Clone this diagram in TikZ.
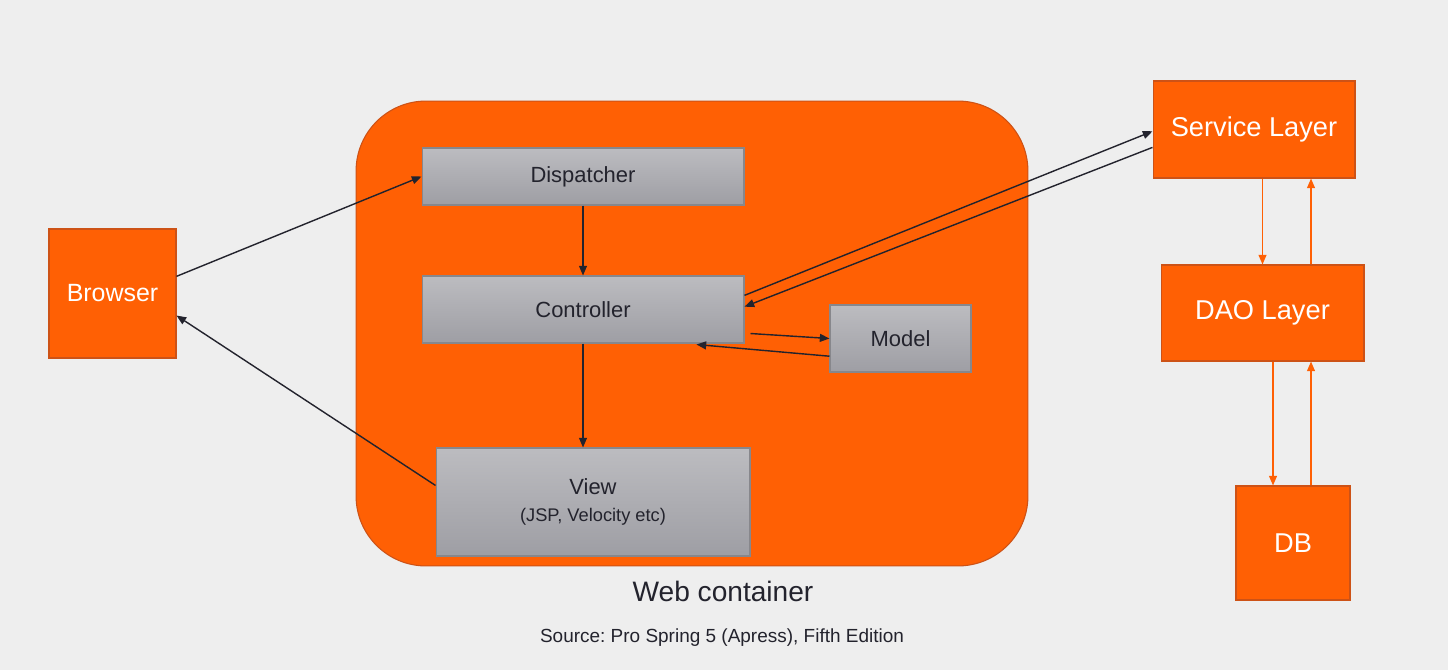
\documentclass[tikz,border=0pt]{standalone}
\usepackage{fontspec}
\setmainfont{Liberation Sans}
\usepackage{xcolor}
\usepackage{tikz}
\usetikzlibrary{positioning,calc,arrows.meta}
\frenchspacing

\definecolor{paper}{RGB}{238,238,238}
\definecolor{springorange}{RGB}{255,96,4}
\definecolor{orangeedge}{RGB}{205,82,22}
\definecolor{greytop}{RGB}{188,188,192}
\definecolor{greybottom}{RGB}{158,158,164}
\definecolor{greyedge}{RGB}{135,135,140}
\definecolor{inktext}{RGB}{35,35,45}

\tikzset{
    layer/.style={draw=orangeedge, fill=springorange, text=white, line width=0.6pt,
        font=\fontsize{15.5}{18}\selectfont},
    part/.style={draw=greyedge, top color=greytop, bottom color=greybottom, line width=0.6pt,
        text=inktext, font=\fontsize{12.5}{15}\selectfont},
    flow/.style={draw=inktext, line width=0.8pt, -{Triangle[length=5.5pt,width=4.5pt]}},
    dataflow/.style={draw=springorange, line width=0.8pt, -{Triangle[length=5.5pt,width=4.5pt]}}
}

\begin{document}
\begin{tikzpicture}[x=0.02cm, y=-0.02cm]
    \fill[paper] (0,0) rectangle (1448,670);
    \useasboundingbox (0,0) rectangle (1448,670);

    % web container
    \node[draw=orangeedge, fill=springorange, line width=0.6pt, rounded corners=1.4cm,
        minimum width=13.44cm, minimum height=9.3cm] (container) at (692,333.5) {};
    \node[text=inktext, font=\fontsize{16}{19}\selectfont] (containerlabel) at (723,591) {Web container};

    \node[part, minimum width=6.44cm, minimum height=1.14cm] (dispatcher) at (583,176.5) {Dispatcher};
    \node[part, minimum width=6.44cm, minimum height=1.34cm] (controller) at (583,309.5) {Controller};
    \node[part, minimum width=2.82cm, minimum height=1.34cm] (model) at (900.5,338.5) {Model};
    \node[part, minimum width=6.28cm, minimum height=2.16cm, align=center] (view) at (593,502)
        {View\\[0pt]{\fontsize{10.4}{12}\selectfont (JSP, Velocity etc)}};

    % outside the container
    \node[layer, minimum width=2.54cm, minimum height=2.58cm, font=\fontsize{14.2}{17}\selectfont]
        (browser) at (112.5,293.5) {Browser};
    \node[layer, minimum width=4.04cm, minimum height=1.94cm] (service) at (1254,129.5) {Service Layer};
    \node[layer, minimum width=4.06cm, minimum height=1.92cm] (dao) at (1262.5,313) {DAO Layer};
    \node[layer, minimum width=2.28cm, minimum height=2.28cm] (db) at (1293,543) {DB};

    \node[text=inktext, font=\fontsize{10.8}{13}\selectfont] (source) at (722,638)
        {Source: Pro Spring 5 (Apress), Fifth Edition};

    % request path
    \draw[flow] (browser.15) -- (dispatcher.west);
    \draw[flow] (dispatcher.south) -- (controller.north);
    \draw[flow] (controller.south) -- (controller.south |- view.north);
    \draw[flow] (view.174) -- (browser.-19);
    \draw[flow] ([shift={(6,-10)}]controller.south east) -- (model.west);
    \draw[flow] (model.194) -- ([shift={(-48,1)}]controller.south east);
    \draw[flow] (controller.5.5) -- (service.181);
    \draw[flow] (service.190) -- (controller.1);

    % layers
    \coordinate (daoup) at ([shift={(48.5,0)}]dao.north);
    \coordinate (dbdown) at ([shift={(-20,0)}]db.north);
    \coordinate (dbup) at ([shift={(18,0)}]db.north);
    \draw[dataflow] (dao.north |- service.south) -- (dao.north);
    \draw[dataflow] (daoup) -- (daoup |- service.south);
    \draw[dataflow] (dbdown |- dao.south) -- (dbdown);
    \draw[dataflow] (dbup) -- (dbup |- dao.south);
\end{tikzpicture}
\end{document}
